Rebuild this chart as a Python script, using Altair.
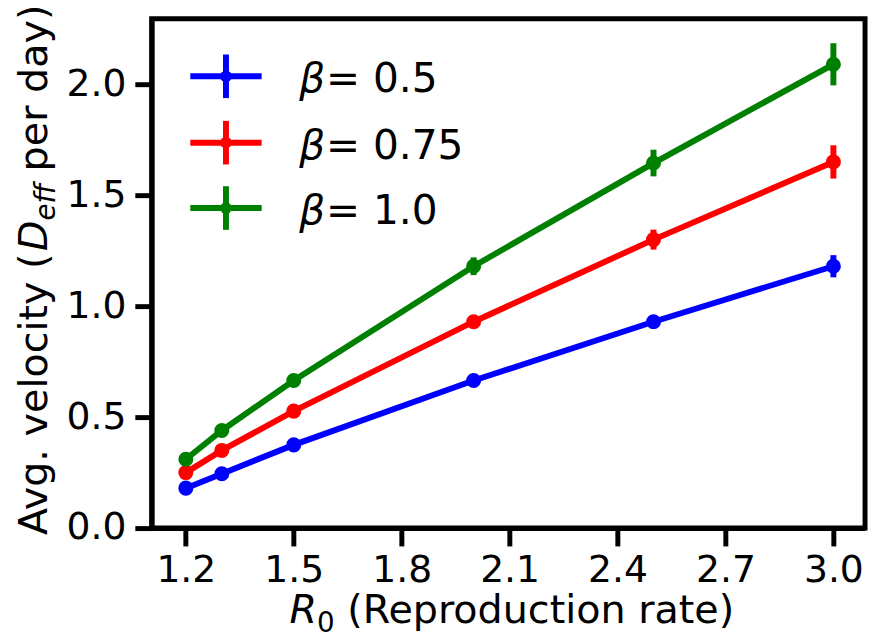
import altair as alt
import pandas as pd

# ---- data ----
r0 = [1.2, 1.3, 1.5, 2.0, 2.5, 3.0]
betas = ["0.5", "0.75", "1.0"]
colors = ["#0000ff", "#ff0000", "#008000"]
vel_05 = [0.18, 0.245, 0.375, 0.665, 0.93, 1.18]
err_05 = [0.01, 0.01, 0.01, 0.015, 0.02, 0.05]
vel_075 = [0.25, 0.35, 0.527, 0.93, 1.30, 1.65]
err_075 = [0.01, 0.01, 0.015, 0.025, 0.045, 0.075]
vel_10 = [0.31, 0.44, 0.665, 1.18, 1.645, 2.09]
err_10 = [0.01, 0.015, 0.02, 0.04, 0.06, 0.095]
x_ticks = [1.2, 1.5, 1.8, 2.1, 2.4, 2.7, 3.0]
y_ticks = [0.0, 0.5, 1.0, 1.5, 2.0]

series = {"0.5": (vel_05, err_05), "0.75": (vel_075, err_075), "1.0": (vel_10, err_10)}
rows = []
for bi, b in enumerate(betas):
    v, e = series[b]
    for i, x in enumerate(r0):
        rows.append({"beta": b, "order": bi, "r0": x, "v": v[i], "lo": v[i] - e[i], "hi": v[i] + e[i]})
df = pd.DataFrame(rows)

FONT = "DejaVu Sans"
F = 40          # axis titles
FT = 38         # tick labels
FL = 41         # legend
SUB = F * 0.7
LW = 6
W = {"A": .684, "v": .592, "g": .635, ".": .318, " ": .318, "e": .615, "l": .278, "o": .612,
     "c": .550, "i": .278, "t": .392, "y": .592, "(": .390, ")": .390, "D": .770, "f": .352,
     "p": .635, "r": .411, "d": .635, "a": .613, "R": .695, "0": .636, "u": .634, "n": .634}


def wid(s, size):
    return sum(W.get(ch, 0.6) for ch in s) * size


PW, PH = 720, 514
xs = alt.Scale(domain=[1.105, 3.088], nice=False, zero=False)
ys = alt.Scale(domain=[0, 2.295], nice=False, zero=False)
cs = alt.Scale(domain=betas, range=colors)

base = alt.Chart(df)
X = alt.X("r0:Q", scale=xs, axis=alt.Axis(values=x_ticks, format=".1f", title="",
                                          tickSize=18, labelPadding=6))
Y = alt.Y("v:Q", scale=ys, axis=alt.Axis(values=y_ticks, format=".1f", title="",
                                         tickSize=17, labelPadding=9))
C = alt.Color("beta:N", scale=cs, legend=None)

lines = base.mark_line(strokeWidth=LW).encode(x=X, y=Y, color=C, order="r0:Q")
errs = base.mark_rule(strokeWidth=LW).encode(x=X, y=alt.Y("lo:Q", scale=ys), y2="hi:Q", color=C)
pts = base.mark_circle(size=230, opacity=1).encode(x=X, y=Y, color=C)

layers = [lines, errs, pts]


def txt(t, x, y, size=F, style="normal", angle=0, color="black", align="left"):
    return alt.Chart(alt.Data(values=[{}])).mark_text(
        font=FONT, fontSize=size, fontStyle=style, angle=angle, align=align,
        baseline="alphabetic", color=color
    ).encode(x=alt.value(x), y=alt.value(y), text=alt.value(t))


def rule(x, x2, y, y2, color):
    return alt.Chart(alt.Data(values=[{}])).mark_rule(strokeWidth=LW, color=color).encode(
        x=alt.value(x), x2=alt.value(x2), y=alt.value(y), y2=alt.value(y2))


# ---- x-axis title: R_0 (Reproduction rate) ----
tx, tyb = 139, 610
layers.append(txt("R", tx, tyb, style="italic"))
tx += wid("R", F)
layers.append(txt("0", tx, tyb + 9, size=SUB))
tx += wid("0", SUB) + wid(" ", F)
layers.append(txt("(Reproduction rate)", tx, tyb))

# ---- y-axis title: Avg. velocity (D_eff per day), rotated ----
yx, yy = -106, 521
layers.append(txt("Avg. velocity (", yx, yy, angle=270))
yy -= wid("Avg. velocity (", F)
layers.append(txt("D", yx, yy, style="italic", angle=270))
yy -= wid("D", F)
layers.append(txt("eff", yx + 8, yy, size=SUB, style="italic", angle=270))
yy -= wid("eff", SUB) + wid(" ", F)
layers.append(txt("per day)", yx, yy, angle=270))

# ---- legend ----
leg_y = [58, 125, 191]
for b, col, ly in zip(betas, colors, leg_y):
    layers.append(rule(39, 111, ly, ly, col))
    layers.append(rule(75, 75, ly - 22, ly + 22, col))
    layers.append(alt.Chart(alt.Data(values=[{}])).mark_circle(size=140, opacity=1, color=col).encode(
        x=alt.value(75), y=alt.value(ly)))
    layers.append(txt("β", 149, ly + 16, size=FL, style="italic"))
    layers.append(txt("= " + b, 176, ly + 16, size=FL))

chart = alt.layer(*layers).properties(
    width=PW, height=PH,
    autosize=alt.AutoSizeParams(type="none"),
    padding={"left": 145, "top": 8, "right": 5, "bottom": 105},
).configure_view(stroke="black", strokeWidth=5).configure_axis(
    labelFont=FONT, labelFontSize=FT, labelColor="black", tickColor="black",
    tickWidth=5, domainColor="black", domainWidth=5, grid=False,
    labelOverlap=False
)

chart.save("out.html", embed_options={"renderer": "svg", "actions": False})
